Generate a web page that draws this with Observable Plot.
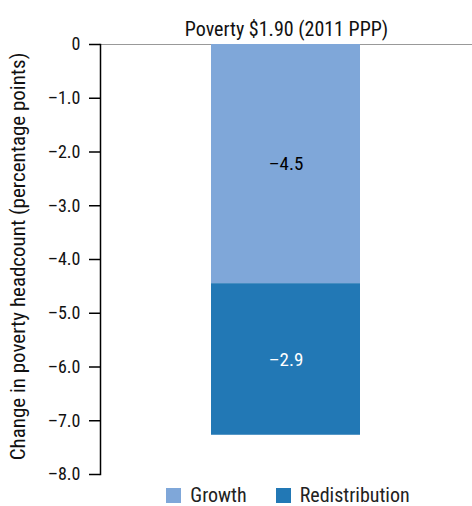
<!DOCTYPE html>
<html>
<head>
<meta charset="utf-8">
<script src="https://cdn.jsdelivr.net/npm/d3@7"></script>
<script src="https://cdn.jsdelivr.net/npm/@observablehq/plot@0.6"></script>
<style>
  html, body { margin: 0; padding: 0; background: #fff; }
  body { width: 472px; height: 506px; overflow: hidden;
         font-family: "Roboto Condensed", "Liberation Sans Narrow", "DejaVu Sans Condensed", Roboto, sans-serif; }
  #chart svg { display: block; }
  #legend { display: flex; justify-content: center; align-items: center; height: 20px; line-height: 20px; margin-top: 9px;
            font-size: 20px; color: #222; padding-left: 104px; box-sizing: border-box; width: 472px; }
  .sw { display: inline-block; width: 15px; height: 15px; margin-right: 9px; }
  .item { display: flex; align-items: center; margin-right: 29px; }
  .item:last-child { margin-right: 0; }
</style>
</head>
<body>
<div id="chart"></div>
<div id="legend"></div>
<script>
const title = "Poverty $1.90 (2011 PPP)";
const components = ["Growth", "Redistribution"];
const values = [-4.45, -2.82];
const valueLabels = ["\u20134.5", "\u20132.9"];
const colors = ["#7FA7D9", "#2278B5"];
const yTicks = [0, -1, -2, -3, -4, -5, -6, -7, -8];
const yLabel = "Change in poverty headcount (percentage points)";

const data = components.map((c, i) => ({group: title, comp: c, v: values[i], label: valueLabels[i]}));
const fontFam = getComputedStyle(document.body).fontFamily;
const fmt = d => d === 0 ? "0" : (d < 0 ? "\u2013" : "") + Math.abs(d).toFixed(1);

const plot = Plot.plot({
  width: 472,
  height: 476,
  marginTop: 44,
  marginBottom: 2,
  marginLeft: 100,
  marginRight: 0,
  style: {fontFamily: fontFam, fontSize: "18px", color: "#000", background: "#fff", overflow: "visible"},
  x: {domain: [title], padding: 0.4255, axis: null},
  y: {domain: [-8, 0], ticks: yTicks, tickFormat: fmt},
  color: {domain: components, range: colors},
  marks: [
    Plot.ruleY([0], {stroke: "#999", strokeWidth: 1}),
    Plot.barY(data, {x: "group", y: "v", fill: "comp", order: components}),
    Plot.text(data, Plot.stackY({x: "group", y: "v", text: "label", order: components,
      fill: d => d.comp === "Redistribution" ? "white" : "black", fontSize: 19})),
    Plot.axisY({ticks: yTicks, tickSize: 11, tickPadding: 9, stroke: "#000", strokeWidth: 1.5,
      tickFormat: fmt, label: null, fontSize: 18, fill: "#111"}),
    Plot.frame({anchor: "left", stroke: "#000", strokeWidth: 1.5}),
    Plot.text([title], {frameAnchor: "top", dy: -23, fontSize: 20, fill: "#111"}),
    Plot.text([yLabel], {frameAnchor: "left", textAnchor: "middle", rotate: -90, dx: -82, dy: -3,
      fontSize: 21, fill: "#111"})
  ]
});
document.getElementById("chart").appendChild(plot);

const legend = document.getElementById("legend");
components.forEach((c, i) => {
  const item = document.createElement("span");
  item.className = "item";
  const sw = document.createElement("span");
  sw.className = "sw";
  sw.style.background = colors[i];
  item.appendChild(sw);
  item.appendChild(document.createTextNode(c));
  legend.appendChild(item);
});
</script>
</body>
</html>
